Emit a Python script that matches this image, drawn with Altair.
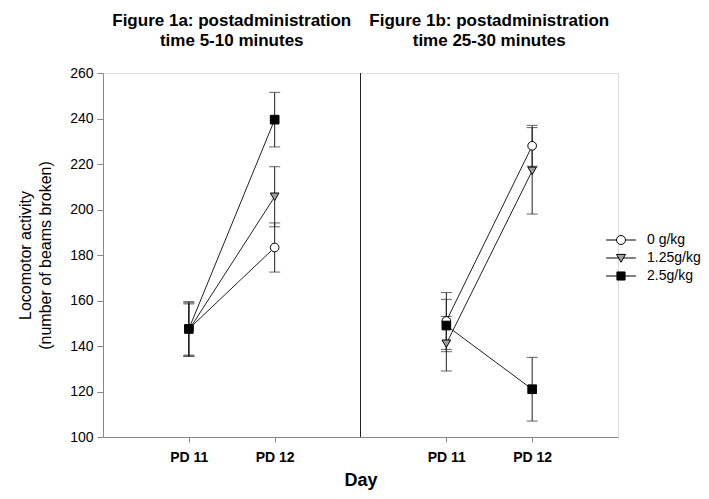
import altair as alt
import pandas as pd

# ---- data ----
doses = ["0 g/kg", "1.25g/kg", "2.5g/kg"]
days = ["PD 11", "PD 12"]
panel_titles = [
    "Figure 1a: postadministration\ntime 5-10 minutes",
    "Figure 1b: postadministration\ntime 25-30 minutes",
]
# mean per dose, per day
means_5_10 = [[147.5, 183.3], [147.0, 205.6], [147.5, 239.5]]
err_5_10 = [[11.5, 10.8], [11.5, 13.2], [12.0, 12.0]]
means_25_30 = [[151.0, 228.0], [141.0, 217.0], [149.0, 121.0]]
err_25_30 = [[12.5, 9.0], [12.0, 19.0], [11.5, 14.0]]

rows = []
for p, (means, errs) in enumerate([(means_5_10, err_5_10), (means_25_30, err_25_30)]):
    for d, dose in enumerate(doses):
        for k, day in enumerate(days):
            m = means[d][k]
            e = errs[d][k]
            rows.append({
                "panel": p, "dose": dose, "day": day,
                "pos": p * 3 + k + 1,
                "mean": m, "lo": m - e, "hi": m + e,
            })
df = pd.DataFrame(rows)
titles_df = pd.DataFrame({"pos": [1.5, 4.5], "title": panel_titles})

FONT = "Liberation Sans"
shape_list = ["circle", "triangle-down", "square"]
fill_list = ["white", "#a0a0a0", "black"]
legend_paths = [
    "M3.3,0L1,0M-1,0A1,1,0,1,1,1,0A1,1,0,1,1,-1,0ZM-3.3,0L-1,0",
    "M3.3,0L0.5,0M-1,-0.8L1,-0.8L0,0.95ZM-3.3,0L-0.5,0",
    "M3.3,0L0.9,0M-0.9,-0.9L0.9,-0.9L0.9,0.9L-0.9,0.9ZM-3.3,0L-0.9,0",
]

x_enc = alt.X(
    "pos:Q",
    scale=alt.Scale(domain=[0, 6], nice=False, zero=False),
    axis=alt.Axis(
        values=[1, 2, 4, 5],
        labelExpr="(datum.value == 1 || datum.value == 4) ? 'PD 11' : 'PD 12'",
        title="Day", grid=False, tickSize=5, labelPadding=8,
        labelFontWeight="bold", labelFontSize=14,
        titleFontSize=18, titleFontWeight="bold", titlePadding=7,
    ),
)
y_scale = alt.Scale(domain=[100, 260], nice=False, zero=False)
y_axis = alt.Axis(
    values=list(range(100, 261, 20)), grid=False, tickSize=6, labelPadding=4,
    labelFontSize=14, title=["Locomotor activity", "(number of beams broken)"],
    titleFontSize=16, titleFontWeight="normal", titlePadding=16, titleLineHeight=20,
)

base = alt.Chart(df)

lines = base.mark_line(color="#222", strokeWidth=1).encode(
    x=x_enc,
    y=alt.Y("mean:Q", scale=y_scale, axis=y_axis),
    detail=["dose:N", "panel:N"],
)
bars = base.mark_rule(color="#222", strokeWidth=1).encode(
    x="pos:Q", y="lo:Q", y2="hi:Q"
)
cap_lo = base.mark_tick(orient="horizontal", size=11, thickness=1, color="#222").encode(
    x="pos:Q", y="lo:Q"
)
cap_hi = base.mark_tick(orient="horizontal", size=11, thickness=1, color="#222").encode(
    x="pos:Q", y="hi:Q"
)
point_layers = []
for dose, shp, fll in zip(doses, shape_list, fill_list):
    point_layers.append(
        base.transform_filter(alt.datum.dose == dose).mark_point(
            shape=shp, filled=True, fill=fll, stroke="black", strokeWidth=1,
            size=75, opacity=1,
        ).encode(x="pos:Q", y="mean:Q")
    )

leg = alt.Legend(
    title=None, orient="none", legendX=511, legendY=160,
    symbolSize=81, symbolStrokeWidth=1,
    labelOffset=19, labelFontSize=14, labelFont=FONT, labelColor="black",
    rowPadding=4,
)
legend_layer = base.mark_point(filled=True, strokeWidth=1, opacity=1).encode(
    x="pos:Q", y="mean:Q",
    shape=alt.Shape("dose:N", scale=alt.Scale(domain=doses, range=legend_paths), legend=leg),
    fill=alt.Fill("dose:N", scale=alt.Scale(domain=doses, range=fill_list), legend=leg),
    stroke=alt.Stroke("dose:N", scale=alt.Scale(domain=doses, range=["black", "black", "black"]), legend=leg),
).transform_filter("false")

divider = alt.Chart(titles_df).mark_rule(color="#222", strokeWidth=1).encode(
    x=alt.datum(3), y=alt.datum(100), y2=alt.datum(260)
).transform_filter("datum.pos < 2")

titles = alt.Chart(titles_df).mark_text(
    font=FONT, fontSize=17, fontWeight="bold", baseline="alphabetic",
    lineHeight=20, align="center", color="black",
).encode(
    x="pos:Q", y=alt.value(-47), text="title:N"
).transform_calculate(title="split(datum.title, '\\n')")

chart = alt.layer(lines, bars, cap_lo, cap_hi, *point_layers, legend_layer, divider, titles).properties(
    width=515, height=364,
    autosize=alt.AutoSizeParams(type="none"),
    padding={"left": 95, "top": 65, "right": 83, "bottom": 54},
).configure_view(stroke=None).configure_axis(
    labelFont=FONT, titleFont=FONT, domainColor="#333", tickColor="#333",
    labelColor="black", titleColor="black",
).configure(background="white")

chart.save("out.html", embed_options={"renderer": "svg", "actions": False})
